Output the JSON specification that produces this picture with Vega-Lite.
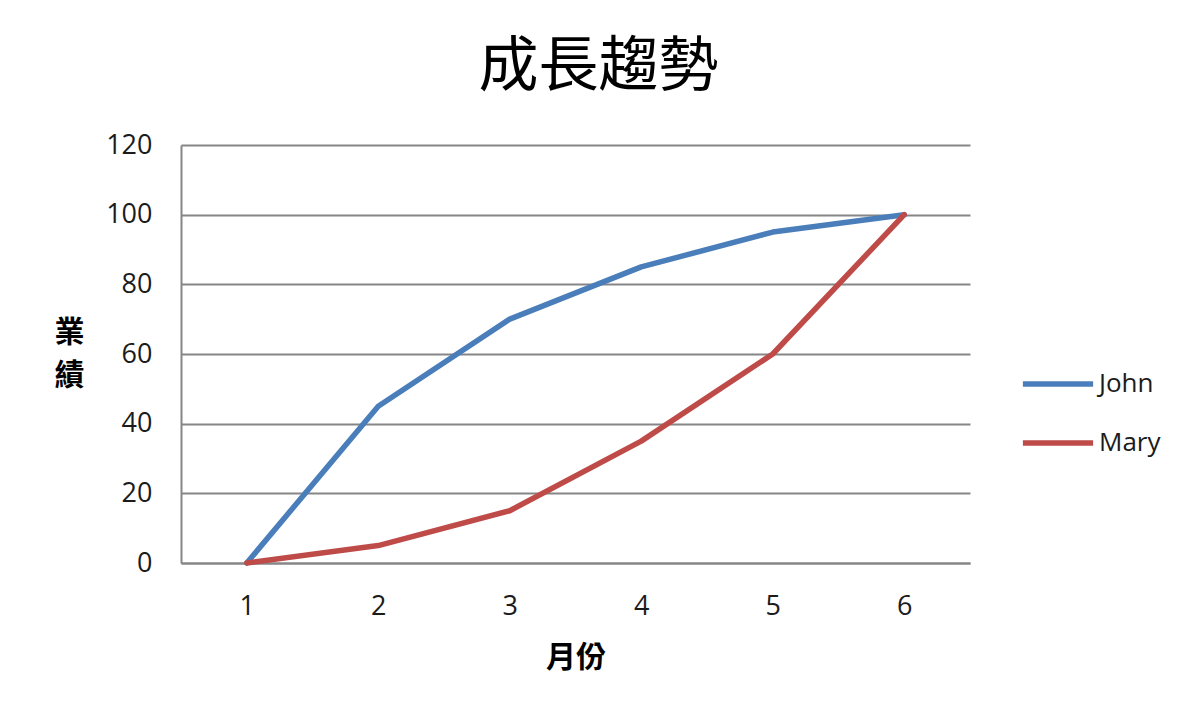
{
  "$schema": "https://vega.github.io/schema/vega-lite/v6.json",
  "width": 789,
  "height": 418,
  "autosize": {"type": "none"},
  "padding": {"left": 181, "top": 145, "right": 230, "bottom": 158},
  "background": "white",
  "title": {
    "text": "成長趨勢",
    "font": "Noto Sans CJK TC",
    "fontSize": 60,
    "fontWeight": "normal",
    "color": "#000000",
    "anchor": "middle",
    "dx": 23,
    "offset": 32
  },
  "data": {
    "values": [
      {"month": "1", "name": "John", "value": 0},
      {"month": "2", "name": "John", "value": 45},
      {"month": "3", "name": "John", "value": 70},
      {"month": "4", "name": "John", "value": 85},
      {"month": "5", "name": "John", "value": 95},
      {"month": "6", "name": "John", "value": 100},
      {"month": "1", "name": "Mary", "value": 0},
      {"month": "2", "name": "Mary", "value": 5},
      {"month": "3", "name": "Mary", "value": 15},
      {"month": "4", "name": "Mary", "value": 35},
      {"month": "5", "name": "Mary", "value": 60},
      {"month": "6", "name": "Mary", "value": 100}
    ]
  },
  "mark": {"type": "line", "strokeWidth": 5.5, "interpolate": "linear", "strokeCap": "round", "strokeJoin": "round"},
  "encoding": {
    "x": {
      "field": "month",
      "type": "ordinal",
      "scale": {"type": "point", "padding": 0.5},
      "axis": {
        "title": "月份",
        "titleFont": "Noto Sans CJK TC",
        "titleFontSize": 30,
        "titleFontWeight": "bold",
        "titleColor": "#000000",
        "titleBaseline": "middle",
        "titleY": 94,
        "labelAngle": 0,
        "labelFont": "Open Sans",
        "labelFontSize": 27,
        "labelColor": "#1b1b1b",
        "labelPadding": 30,
        "ticks": false,
        "grid": false,
        "domainColor": "#868686",
        "domainWidth": 2
      }
    },
    "y": {
      "field": "value",
      "type": "quantitative",
      "scale": {"domain": [0, 120], "nice": false},
      "axis": {
        "values": [0, 20, 40, 60, 80, 100, 120],
        "title": ["業", "績"],
        "titleFont": "Noto Sans CJK TC",
        "titleFontSize": 30,
        "titleFontWeight": "bold",
        "titleColor": "#000000",
        "titleAngle": 0,
        "titleAlign": "center",
        "titleBaseline": "top",
        "titleLineHeight": 43,
        "titleX": -112,
        "titleY": 172,
        "labelFont": "Open Sans",
        "labelFontSize": 27,
        "labelColor": "#1b1b1b",
        "labelPadding": 29,
        "ticks": false,
        "grid": true,
        "gridColor": "#868686",
        "gridWidth": 2,
        "domainColor": "#868686",
        "domainWidth": 2
      }
    },
    "color": {
      "field": "name",
      "type": "nominal",
      "scale": {"domain": ["John", "Mary"], "range": ["#4a7ebb", "#be4b48"]},
      "legend": {
        "title": null,
        "orient": "none",
        "legendX": 844,
        "legendY": 206,
        "padding": 0,
        "rowPadding": 13,
        "symbolType": "M-1.17,0H1.17",
        "symbolSize": 3600,
        "symbolStrokeWidth": 5.5,
        "labelFont": "Open Sans",
        "labelFontSize": 26,
        "labelColor": "#1b1b1b",
        "labelOffset": 8
      }
    }
  },
  "config": {
    "view": {"stroke": null}
  }
}
